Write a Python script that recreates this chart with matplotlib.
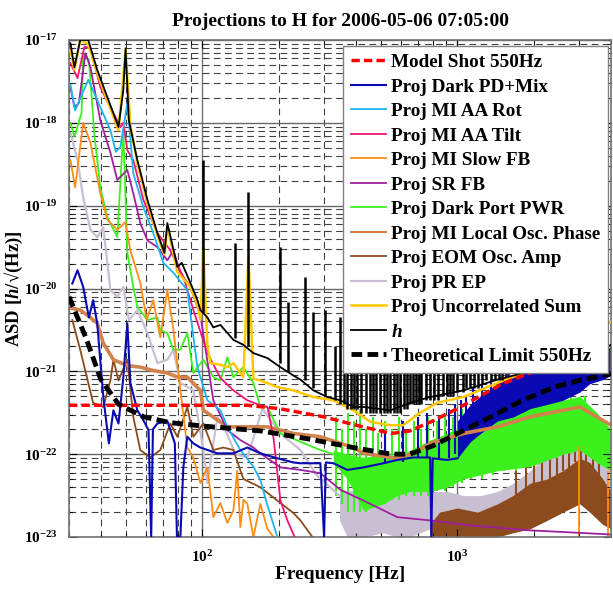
import numpy as np
import matplotlib
matplotlib.use('Agg')
import matplotlib.pyplot as plt
from matplotlib.ticker import FixedLocator, NullFormatter, FixedFormatter

plt.rcParams['font.family'] = ['Liberation Serif', 'DejaVu Serif']
plt.rcParams['font.weight'] = 'bold'
plt.rcParams['mathtext.fontset'] = 'custom'
plt.rcParams['mathtext.rm'] = 'Liberation Serif:bold'
plt.rcParams['mathtext.bf'] = 'Liberation Serif:bold'
plt.rcParams['mathtext.it'] = 'Liberation Serif:bold:italic'

# ---------------- data (frequency in Hz, values as log10 of ASD) ----------------
title = "Projections to H for 2006-05-06 07:05:00"
x_major = [100, 1000]
x_major_labels = [r'$\mathbf{10^{2}}$', r'$\mathbf{10^{3}}$']
y_major_exp = [-23, -22, -21, -20, -19, -18, -17]

theory_f = [30, 35, 40, 47, 59, 75, 100, 170, 265, 390, 550, 650, 800, 1000, 1350, 1800, 2400, 3000, 4000]
theory_e = [-20.1, -20.6, -21.1, -21.4, -21.55, -21.62, -21.66, -21.72, -21.82, -21.92, -22.0, -22.0, -21.9, -21.75, -21.55, -21.35, -21.19, -21.11, -21.03]

shot_f = [30, 150, 200, 300, 400, 550, 650, 800, 1000, 1500, 2000, 3000, 4000]
shot_e = [-21.41, -21.41, -21.45, -21.55, -21.65, -21.75, -21.72, -21.6, -21.45, -21.15, -21.0, -20.85, -20.75]

h_f = [30.4, 31.5, 33.2, 35.7, 38.7, 42.4, 46.9, 49.0, 50.0, 51.5, 55.6, 60.9, 66.6, 71.0, 72.9, 79.8, 83.0, 89.7, 95.6, 98.2, 104.6, 110.4, 117.7, 132.3, 144.8, 158.5, 179.8, 202.3, 227.4, 242.3, 272.4, 309.0, 347.6, 390.8, 428.2, 545.5, 653.3, 781.9, 1056, 1435, 1929, 2593, 3300, 4000]
h_e = [-17.04, -17.33, -17.0, -17.0, -17.36, -17.69, -18.05, -17.6, -17.1, -17.97, -18.45, -18.93, -19.33, -19.57, -19.21, -19.74, -19.69, -19.93, -20.14, -20.26, -20.35, -20.47, -20.44, -20.62, -20.68, -20.78, -20.84, -20.95, -21.05, -21.1, -21.23, -21.31, -21.35, -21.43, -21.43, -21.47, -21.38, -21.31, -21.23, -21.1, -21.0, -20.93, -20.8, -20.68]
h_spike_f = [101, 134.7, 151.6, 200.7, 217.4, 253, 272, 303, 330, 345, 358, 370, 382, 393, 405, 420, 437, 455, 468, 480, 497, 515, 530, 545, 562, 580, 597, 615, 632, 650, 670, 690, 705, 720, 750, 780, 810, 840, 875, 910, 935, 960, 1000, 1050, 1085, 1120, 1160, 1200, 1250, 1300, 1350, 1400, 1450, 1500, 1580, 1650, 1720, 1800, 1900, 2000, 2200, 2400, 2600, 2800, 3000, 3300]
h_spike_lo = [-20.3, -20.6, -20.7, -20.9, -21.0, -21.1, -21.2, -21.3, -21.35, -21.4, -21.4, -21.45, -21.45, -21.45, -21.45, -21.5, -21.5, -21.5, -21.5, -21.5, -21.5, -21.5, -21.5, -21.5, -21.5, -21.5, -21.5, -21.45, -21.45, -21.4, -21.4, -21.4, -21.4, -21.4, -21.35, -21.35, -21.35, -21.35, -21.3, -21.3, -21.3, -21.3, -21.25, -21.25, -21.2, -21.2, -21.2, -21.2, -21.15, -21.1, -21.1, -21.1, -21.1, -21.1, -21.05, -21.0, -21.0, -21.0, -21.0, -21.0, -20.95, -20.9, -20.9, -20.85, -20.85, -20.8]
h_spike_hi = [-18.45, -19.45, -18.83, -19.5, -20.16, -19.86, -20.28, -20.26, -20.7, -20.35, -20.8, -20.45, -20.2, -20.6, -20.5, -20.3, -20.6, -20.15, -20.7, -20.3, -20.55, -20.4, -20.75, -20.45, -20.6, -20.3, -20.65, -20.5, -20.7, -20.45, -20.75, -20.5, -20.7, -20.55, -20.7, -20.4, -20.75, -20.6, -20.75, -20.2, -20.7, -20.45, -20.6, -20.4, -20.7, -20.5, -20.7, -20.6, -20.7, -20.5, -20.7, -20.55, -20.7, -20.6, -20.65, -20.6, -20.7, -20.55, -20.65, -20.6, -20.5, -20.55, -20.5, -20.45, -20.5, -20.5]

sum_f = [30.4, 31.5, 33.2, 35.7, 38.7, 42.4, 46.9, 50.0, 52.2, 55.6, 60.9, 66.6, 71.0, 72.9, 79.8, 89.7, 95.6, 98.2, 100.9, 104.6, 107.5, 117.7, 125.3, 132.3, 144.8, 151.6, 158.5, 168.8, 196.8, 227.4, 272.4, 326.4, 390.8, 455.9, 545.5, 613.5, 714.5, 832.7, 1056, 1435, 1929, 2593, 3300, 4000]
sum_e = [-17.12, -17.36, -17.0, -17.05, -17.4, -17.73, -18.09, -17.12, -18.03, -18.49, -18.97, -19.36, -19.59, -19.25, -19.8, -19.98, -20.2, -20.38, -19.54, -20.68, -20.9, -20.92, -20.95, -20.9, -21.07, -19.62, -21.09, -21.11, -21.19, -21.23, -21.31, -21.35, -21.47, -21.61, -21.65, -21.65, -21.5, -21.38, -21.31, -21.14, -20.99, -20.83, -20.56, -20.4]

pd_f = [30.9, 32.4, 34.1, 35.9, 37.3, 38.7, 40.9, 43.0, 44.8, 46.9, 49.0, 50.8, 52.2, 55.6, 58.7, 61.5, 63.0, 64.0, 66.6, 72.9, 78.0, 79.5, 82.0, 84.2, 87.3, 92.2, 98.2, 114.5, 132.3, 150.1, 168.8, 196.8, 227.4, 242.3, 290.2, 300.0, 305.0, 326.4, 370.2, 428.2, 512.3, 580.9, 671.1, 781.9, 790.0, 800.0, 911.2, 1000]
pd_e = [-19.94, -19.78, -19.98, -20.35, -20.14, -20.42, -21.31, -21.87, -21.47, -21.63, -21.07, -20.42, -21.14, -21.47, -21.59, -21.71, -23.0, -21.7, -21.63, -21.6, -21.87, -23.0, -23.0, -22.16, -21.79, -21.87, -21.92, -21.99, -21.99, -21.92, -21.99, -22.05, -22.1, -22.11, -22.11, -23.0, -22.1, -22.11, -22.19, -22.16, -22.11, -22.07, -22.04, -22.04, -23.0, -22.05, -22.07, -22.05]
pd_band_f = [1000, 1124, 1231, 1435, 1657, 1929, 2245, 2593, 3018, 3300, 3715, 4000]
pd_band_lo = [-22.05, -21.85, -21.75, -21.6, -21.55, -21.45, -21.4, -21.35, -21.25, -21.15, -21.1, -21.05]
pd_band_hi = [-21.6, -21.4, -21.3, -21.15, -21.05, -21.0, -20.95, -20.86, -20.82, -20.8, -20.75, -20.7]
pd_spike_f = [520, 610, 700, 760, 850, 930, 980, 1030, 1080, 1150, 1250, 1350, 1550, 1800]
pd_spike_lo = [-22.1, -22.1, -22.05, -22.05, -22.05, -22.05, -22.0, -21.9, -21.85, -21.8, -21.75, -21.65, -21.55, -21.5]
pd_spike_hi = [-21.75, -21.6, -21.55, -21.5, -21.55, -21.45, -21.4, -21.35, -21.3, -21.2, -21.15, -21.1, -20.95, -20.9]

rot_f = [30.4, 31.7, 35.7, 39.8, 43.6, 45.8, 47.7, 50.8, 53.6, 58.7, 64.2, 70.3, 77.0, 87.3, 89.7, 95.6, 104.6, 117.7, 125.3, 140.9, 158.5, 168.8, 180.0, 196.8]
rot_e = [-17.54, -17.85, -17.48, -17.81, -18.09, -18.35, -18.29, -17.76, -18.61, -19.02, -19.33, -19.69, -19.81, -20.02, -20.3, -20.95, -21.35, -21.47, -21.67, -21.95, -22.15, -22.31, -22.62, -23.0]

tilt_f = [30.4, 32.4, 34.5, 36.4, 39.8, 43.6, 47.7, 49.0, 50.8, 53.6, 58.7, 66.6, 74.9, 84.2, 92.2, 104.6, 117.7, 132.3, 150.1, 168.8, 180.0, 190.0, 202.3, 215.4, 230.0]
tilt_e = [-17.28, -17.46, -17.08, -17.1, -17.57, -17.81, -18.05, -18.0, -18.33, -18.45, -18.93, -19.33, -19.54, -19.86, -20.26, -20.78, -21.08, -21.23, -21.35, -21.41, -21.43, -21.8, -22.56, -22.8, -23.0]

slow_f = [30.4, 31.7, 34.1, 36.4, 39.8, 42.4, 46.4, 49.9, 52.2, 57.1, 60.5, 64.2, 68.4, 72.9, 77.0, 82.0, 87.3, 92.2, 98.2, 104.6, 110.4, 117.7, 125.3, 132.3, 137.0, 140.9, 145.0, 150.1, 158.5, 168.8, 179.8, 190.0]
slow_e = [-18.45, -18.78, -18.0, -18.24, -18.85, -19.17, -19.29, -19.2, -19.54, -19.93, -20.38, -20.14, -20.59, -20.02, -20.5, -21.23, -21.92, -22.04, -22.35, -22.16, -22.76, -22.59, -22.83, -22.68, -22.2, -22.88, -22.55, -22.6, -23.0, -22.6, -22.9, -23.0]
slow_spike_f = [3000, 3900]
slow_spike_lo = [-23.0, -23.0]
slow_spike_hi = [-21.9, -22.2]

sr_f = [30.4, 31.5, 32.8, 34.8, 36.4, 39.8, 43.6, 46.4, 50.8, 53.6, 57.1, 60.9, 66.6, 72.9, 77.0, 82.0, 89.7, 98.2, 110.4, 125.3, 140.9, 158.5, 168.8, 202.3, 242.3, 290.2, 347.6, 428.2, 580.9, 781.9, 1124, 1929, 3018, 4000]
sr_e = [-17.57, -17.81, -17.76, -17.16, -17.33, -17.97, -18.36, -18.69, -18.57, -18.85, -19.21, -19.42, -19.5, -19.66, -19.54, -19.81, -19.98, -20.32, -21.35, -21.71, -21.83, -21.92, -21.99, -22.16, -22.19, -22.23, -22.43, -22.56, -22.76, -22.8, -22.86, -22.92, -22.95, -22.97]

pwr_f = [30.4, 31.5, 33.6, 34.1, 35.9, 37.8, 39.8, 42.4, 46.4, 49.0, 50.8, 53.6, 55.6, 60.9, 66.6, 68.4, 72.9, 77.0, 82.0, 87.3, 92.2, 100.9, 110.4, 117.7, 125.3, 132.3, 144.8, 158.5, 168.8, 179.8, 202.3, 242.3, 290.2, 326.4]
pwr_e = [-18.0, -18.17, -17.88, -17.16, -17.24, -18.17, -18.78, -19.14, -19.38, -18.09, -19.57, -19.98, -20.22, -20.38, -20.35, -20.5, -20.54, -20.74, -20.74, -20.54, -21.02, -20.86, -21.07, -21.11, -20.83, -21.07, -20.95, -21.14, -21.43, -21.43, -21.75, -21.85, -21.95, -22.0]
pwr_band_f = [326, 370, 428, 512, 581, 653, 782, 911, 1056, 1231, 1435, 1929, 2593, 3018, 3519, 3994]
pwr_band_lo = [-22.1, -22.3, -22.68, -22.6, -22.5, -22.45, -22.45, -22.4, -22.3, -22.25, -22.2, -22.15, -22.0, -21.95, -22.1, -22.2]
pwr_band_hi = [-21.95, -22.0, -22.04, -22.0, -22.04, -21.95, -21.83, -21.75, -21.65, -21.6, -21.55, -21.43, -21.35, -21.3, -21.5, -21.7]
pwr_spike_f = [335, 352, 372, 392, 415, 440, 465, 490, 520, 555, 590, 630, 675, 720, 770, 830, 890, 960, 1040, 1130, 1250, 1380, 1520, 1700, 1900, 2150, 2450, 2800, 3150]
pwr_spike_lo = [-22.5, -22.6, -22.7, -22.7, -22.7, -22.7, -22.65, -22.6, -22.6, -22.55, -22.55, -22.5, -22.5, -22.5, -22.5, -22.45, -22.45, -22.4, -22.35, -22.3, -22.3, -22.25, -22.2, -22.2, -22.15, -22.1, -22.05, -22.0, -22.0]
pwr_spike_hi = [-21.55, -21.7, -21.5, -21.6, -21.45, -21.7, -21.55, -21.75, -21.6, -21.7, -21.55, -21.75, -21.6, -21.7, -21.55, -21.6, -21.5, -21.55, -21.45, -21.5, -21.4, -21.45, -21.3, -21.35, -21.3, -21.25, -21.2, -21.15, -21.3]

lo_f = [30.9, 33.2, 36.4, 38.7, 40.9, 44.8, 50.8, 57.1, 64.2, 72.9, 79.8, 87.3, 98.2, 100.9, 125.3, 150.1, 179.8, 227.4, 290.2, 390.8, 428.2, 580.9, 671.1, 781.9, 1056, 1435, 1929, 2593, 3018, 3519, 4000]
lo_e = [-20.24, -20.26, -20.35, -20.42, -20.66, -20.86, -20.93, -20.95, -20.99, -21.02, -21.07, -21.07, -21.23, -21.47, -21.67, -21.67, -21.67, -21.75, -21.79, -21.92, -21.99, -22.05, -21.99, -21.87, -21.75, -21.67, -21.55, -21.47, -21.43, -21.55, -21.65]

eom_f = [30.9, 33.2, 35.7, 37.3, 40.9, 43.6, 44.8, 46.9, 50.8, 53.6, 57.1, 62.5, 68.4, 74.9, 79.8, 87.3, 92.2, 100.9, 110.4, 120.9, 132.3, 144.8, 168.8, 196.8, 227.4, 242.3, 270.0]
eom_e = [-20.38, -20.74, -21.14, -21.38, -21.43, -21.11, -20.86, -21.11, -20.86, -21.55, -21.95, -22.04, -21.95, -21.63, -21.79, -21.43, -21.79, -21.63, -21.95, -21.92, -21.95, -22.3, -22.4, -22.56, -22.71, -22.8, -23.0]
eom_band_f = [780, 850, 1000, 1200, 1435, 1650, 1929, 2245, 2593, 3018, 3300, 3715, 4000]
eom_band_lo = [-23.0, -23.0, -23.0, -23.0, -23.0, -22.95, -22.9, -22.8, -22.7, -22.6, -22.7, -22.85, -22.9]
eom_band_hi = [-22.85, -22.7, -22.65, -22.7, -22.6, -22.5, -22.35, -22.3, -22.2, -22.05, -22.1, -22.3, -22.45]
eom_spike_f = [1700, 1850, 2000, 2150, 2300, 2450, 2600, 2750, 2900, 3050, 3200, 3400, 3600]
eom_spike_lo = [-22.6, -22.5, -22.4, -22.4, -22.3, -22.3, -22.2, -22.2, -22.1, -22.1, -22.2, -22.3, -22.4]
eom_spike_hi = [-22.2, -22.0, -22.1, -21.9, -22.0, -21.85, -21.95, -21.8, -21.9, -21.75, -21.9, -22.0, -22.1]

pr_f = [30.4, 32.4, 34.1, 36.4, 38.7, 40.9, 43.6, 46.4, 49.0, 51.5, 55.6, 60.9, 66.6, 72.9, 77.0, 82.0, 92.2, 100.9, 104.6, 114.5, 123.0, 135.0, 150.1, 172.0, 202.3, 242.3, 280.0, 345.0]
pr_e = [-18.12, -18.45, -18.9, -19.29, -19.38, -19.26, -20.02, -20.1, -19.98, -20.38, -20.26, -20.54, -20.9, -20.86, -20.74, -21.14, -21.23, -21.95, -22.35, -21.55, -21.71, -22.0, -22.04, -21.45, -21.75, -21.95, -22.25, -22.5]
pr_band_f = [345, 370, 428, 512, 581, 653, 782, 911, 1056, 1231, 1435, 1657, 1929, 2245, 2593, 3018, 3300, 3715, 3994]
pr_band_lo = [-22.8, -23.0, -23.0, -22.95, -23.0, -23.0, -22.9, -22.85, -23.0, -23.0, -23.0, -22.9, -22.8, -22.6, -22.5, -22.4, -22.4, -22.6, -22.7]
pr_band_hi = [-22.4, -22.45, -22.4, -22.45, -22.4, -22.45, -22.45, -22.45, -22.5, -22.5, -22.45, -22.35, -22.2, -22.0, -21.8, -21.6, -21.45, -21.8, -21.85]

legend_labels = ['Model Shot 550Hz', 'Proj Dark PD+Mix', 'Proj MI AA Rot', 'Proj MI AA Tilt',
                 'Proj MI Slow FB', 'Proj SR FB', 'Proj Dark Port PWR', 'Proj MI Local Osc. Phase',
                 'Proj EOM Osc. Amp', 'Proj PR EP', 'Proj Uncorrelated Sum', r'$\mathit{h}$',
                 'Theoretical Limit 550Hz']

# ---------------- colours ----------------
c_shot = '#ff0000'
c_pd = '#0a0ab4'
c_rot = '#1eb4f0'
c_tilt = '#f0147a'
c_slow = '#ff8c14'
c_sr = '#a01ea0'
c_pwr = '#3cf01e'
c_lo = '#d2824b'
c_eom = '#8c4b1e'
c_pr = '#c8c0d2'
c_sum = '#ffc800'


def v(e):
    return 10.0 ** np.asarray(e, dtype=float)


fig = plt.figure(figsize=(6.13, 5.91), dpi=100)
ax = fig.add_axes([69 / 613, 1 - 537 / 591, 542 / 613, 497 / 591])
ax.set_xscale('log')
ax.set_yscale('log')
ax.set_xlim(30, 4000)
ax.set_ylim(1e-23, 1e-17)

# grid
minor_x = [f * d for d in (10, 100, 1000) for f in range(2, 10) if 30 <= f * d <= 4000]
for xm in minor_x:
    ax.axvline(xm, color='0.25', lw=0.8, ls=(0, (6, 4)), zorder=0.5)
for xm in x_major:
    ax.axvline(xm, color='0.45', lw=1.0, ls='-', zorder=0.5)
for e in y_major_exp[:-1]:
    for m in range(2, 10):
        ax.axhline(m * 10.0 ** e, color='0.25', lw=0.8, ls=(0, (6, 4)), zorder=0.5)
for e in y_major_exp:
    ax.axhline(10.0 ** e, color='0.4', lw=1.0, ls='-', zorder=0.5)

# bands (dense noisy regions)
ax.fill_between(pr_band_f, v(pr_band_lo), v(pr_band_hi), color=c_pr, lw=0, zorder=1)
ax.fill_between(eom_band_f, v(eom_band_lo), v(eom_band_hi), color=c_eom, lw=0, zorder=1.1)
ax.vlines(eom_spike_f, v(eom_spike_lo), v(eom_spike_hi), color=c_eom, lw=1.5, zorder=1.15)
ax.fill_between(pwr_band_f, v(pwr_band_lo), v(pwr_band_hi), color=c_pwr, lw=0, zorder=1.2)
ax.vlines(pwr_spike_f, v(pwr_spike_lo), v(pwr_spike_hi), color=c_pwr, lw=1.5, zorder=1.25)
ax.fill_between(pd_band_f, v(pd_band_lo), v(pd_band_hi), color=c_pd, lw=0, zorder=1.3)
ax.vlines(pd_spike_f, v(pd_spike_lo), v(pd_spike_hi), color=c_pd, lw=1.5, zorder=1.35)
ax.vlines(slow_spike_f, v(slow_spike_lo), v(slow_spike_hi), color=c_slow, lw=1.3, zorder=1.35)

# lines
lw = 1.3
l_pr, = ax.plot(pr_f, v(pr_e), color=c_pr, lw=lw + 0.3, zorder=2)
l_eom, = ax.plot(eom_f, v(eom_e), color=c_eom, lw=lw, zorder=2.1)
l_pwr, = ax.plot(pwr_f, v(pwr_e), color=c_pwr, lw=lw, zorder=2.2)
l_lo, = ax.plot(lo_f, v(lo_e), color=c_lo, lw=2.6, zorder=2.3)
l_sr, = ax.plot(sr_f, v(sr_e), color=c_sr, lw=lw, zorder=2.4)
l_slow, = ax.plot(slow_f, v(slow_e), color=c_slow, lw=lw, zorder=2.5)
l_tilt, = ax.plot(tilt_f, v(tilt_e), color=c_tilt, lw=lw, zorder=2.6)
l_rot, = ax.plot(rot_f, v(rot_e), color=c_rot, lw=lw, zorder=2.7)
l_pd, = ax.plot(pd_f, v(pd_e), color=c_pd, lw=1.5, zorder=2.8)
l_sum, = ax.plot(sum_f, v(sum_e), color=c_sum, lw=1.8, zorder=3)
l_h, = ax.plot(h_f, v(h_e), color='k', lw=1.3, zorder=3.2)
ax.vlines(h_spike_f, v(h_spike_lo), v(h_spike_hi), color='k', lw=1.8, zorder=3.1)
l_shot, = ax.plot(shot_f, v(shot_e), color=c_shot, lw=2.5, ls=(0, (2.4, 1.2)), zorder=4)
l_th, = ax.plot(theory_f, v(theory_e), color='k', lw=3.5, ls=(0, (2.2, 1.1)), zorder=4.1)

# ticks
ax.xaxis.set_major_locator(FixedLocator(x_major))
ax.xaxis.set_major_formatter(FixedFormatter(x_major_labels))
ax.xaxis.set_minor_locator(FixedLocator(minor_x))
ax.xaxis.set_minor_formatter(NullFormatter())
ax.yaxis.set_major_locator(FixedLocator([10.0 ** e for e in y_major_exp]))
ax.yaxis.set_major_formatter(FixedFormatter([r'$\mathbf{10^{%d}}$' % e for e in y_major_exp]))
ax.yaxis.set_minor_locator(FixedLocator([m * 10.0 ** e for e in y_major_exp[:-1] for m in range(2, 10)]))
ax.yaxis.set_minor_formatter(NullFormatter())
ax.tick_params(which='both', direction='in', top=True, right=True, labelsize=11)
ax.tick_params(axis='y', which='major', length=6, pad=8)
ax.tick_params(axis='x', which='major', length=6, pad=9)
ax.tick_params(which='minor', length=3)
for s in ax.spines.values():
    s.set_color('0.45')
    s.set_linewidth(1.2)

ax.set_title(title, fontsize=14, fontweight='bold', pad=10)
ax.set_xlabel('Frequency [Hz]', fontsize=14, fontweight='bold')
ax.xaxis.set_label_coords(0.5, -0.058)
ax.set_ylabel(r'ASD [$\mathit{h}$/√(Hz)]', fontsize=13.5, fontweight='bold')
ax.yaxis.set_label_coords(-0.081, 0.5)

handles = [l_shot, l_pd, l_rot, l_tilt, l_slow, l_sr, l_pwr, l_lo, l_eom, l_pr, l_sum, l_h, l_th]
leg = ax.legend(handles, legend_labels, loc='upper right', bbox_to_anchor=(539 / 542, 491 / 497),
                borderaxespad=0, fontsize=13.8, labelspacing=0.37, handlelength=1.85,
                handletextpad=0.25, borderpad=0.4, fancybox=False, framealpha=1,
                edgecolor='0.5')
leg.get_frame().set_linewidth(1.0)
leg.legend_handles[7].set_linewidth(1.5)
leg.set_zorder(10)

fig.savefig('out.png', dpi=100)
